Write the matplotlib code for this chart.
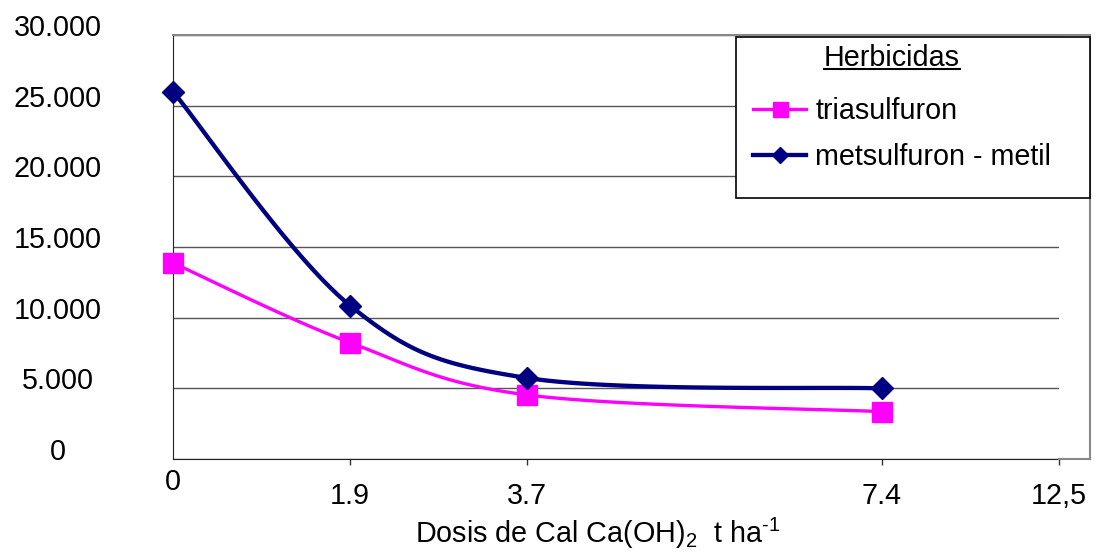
import numpy as np
import matplotlib
matplotlib.use("Agg")
import matplotlib.pyplot as plt
from matplotlib.lines import Line2D
from matplotlib.patches import Rectangle
from matplotlib.transforms import ScaledTranslation

plt.rcParams['font.family'] = ['Liberation Sans', 'DejaVu Sans']
plt.rcParams['mathtext.fontset'] = 'custom'
plt.rcParams['mathtext.rm'] = 'Liberation Sans'
plt.rcParams['mathtext.it'] = 'Liberation Sans'

# data, x is category position
dose_labels = ['0', '1.9', '3.7', '7.4', '12,5']
dose_pos = [0, 1, 2, 4, 5]
data_pos = [0, 1, 2, 4]
triasulfuron = [13870, 8230, 4530, 3350]
metsulfuron = [26000, 10850, 5730, 5000]
y_ticks = [0, 5000, 10000, 15000, 20000, 25000, 30000]
y_labels = ['0', '5.000', '10.000', '15.000', '20.000', '25.000', '30.000']

FS = 20.7
W, H = 1101, 552
fig = plt.figure(figsize=(W/100, H/100), dpi=100)
ax = fig.add_axes([173/W, 1-459/H, (1059-173)/W, (459-35)/H])
ax.set_xlim(0, 5)
ax.set_ylim(0, 30000)


def smooth(xs, ys, n=30):
    # excel-like smoothing, bezier in screen space
    p = ax.transData.transform(np.column_stack([xs, ys]))
    out = [p[0]]
    for i in range(len(p)-1):
        p0 = p[i-1] if i > 0 else p[i]
        p1, p2 = p[i], p[i+1]
        p3 = p[i+2] if i+2 < len(p) else p[i+1]
        c1 = p1 + (p2-p0)/6
        c2 = p2 - (p3-p1)/6
        t = np.linspace(0, 1, n)[1:, None]
        seg = (1-t)**3*p1 + 3*(1-t)**2*t*c1 + 3*(1-t)*t**2*c2 + t**3*p2
        out.extend(seg)
    out = ax.transData.inverted().transform(np.array(out))
    return out[:, 0], out[:, 1]


sx, sy = smooth(data_pos, triasulfuron)
ax.plot(sx, sy, color='#FF00FF', lw=2.4, zorder=3, clip_on=False)
ax.plot(data_pos, triasulfuron, 's', color='#FF00FF', ms=14.5, zorder=4, clip_on=False)
mx, my = smooth(data_pos, metsulfuron)
ax.plot(mx, my, color='#000080', lw=3.1, zorder=5, clip_on=False)
ax.plot(data_pos, metsulfuron, 'D', color='#000080', ms=11, zorder=6, clip_on=False)

ax.set_yticks(y_ticks)
ax.set_yticklabels(y_labels, fontsize=FS, ha='center', va='center')
ax.tick_params(axis='y', length=0, pad=83)
for lab in ax.get_yticklabels():
    lab.set_transform(lab.get_transform() + ScaledTranslation(0, 7/100, fig.dpi_scale_trans))
ax.grid(axis='y', color='#555555', lw=1)
ax.set_axisbelow(True)

ax.set_xticks(dose_pos[1:])
ax.set_xticklabels(dose_labels[1:], fontsize=FS)
ax.set_xticks(dose_pos[:1], minor=True)
ax.set_xticklabels(dose_labels[:1], minor=True, fontsize=FS)
ax.tick_params(axis='x', which='major', length=4, width=1, color='#333333', pad=12.5)
ax.tick_params(axis='x', which='minor', length=0, pad=6.5)

ax.set_xlabel('Dosis de Cal Ca(OH)$_2$  t ha$^{\u20101}$', fontsize=FS)
ax.xaxis.set_label_coords((598-173)/(1059-173), -0.135)

for s in ['top', 'right']:
    ax.spines[s].set_visible(False)
ax.spines['left'].set_color('#222222')
ax.spines['bottom'].set_color('#222222')

# outer plot area frame
frame_c = '#888888'
fig.add_artist(Line2D([173/W, 1090/W], [1-35/H, 1-35/H], color=frame_c, lw=1.5))
fig.add_artist(Line2D([1090/W, 1090/W], [1-35/H, 1-459/H], color=frame_c, lw=1.5))
fig.add_artist(Line2D([1059/W, 1090/W], [1-459/H, 1-459/H], color=frame_c, lw=1.5))

# legend box
fig.add_artist(Rectangle((736/W, 1-198/H), (1090-736)/W, (198-37)/H, transform=fig.transFigure,
                         facecolor='white', edgecolor='black', lw=1.2, zorder=9))
title = fig.text(892/W, 1-58/H, 'Herbicidas', fontsize=FS, ha='center', va='center', zorder=11)

h1 = Line2D([], [], color='#FF00FF', lw=2.4, marker='s', ms=10.8)
h2 = Line2D([], [], color='#000080', lw=3.1, marker='D', ms=8.5)
leg = fig.legend([h1, h2], ['triasulfuron', 'metsulfuron - metil'],
                 loc='upper left', bbox_to_anchor=(753/W, 1-97/H),
                 borderaxespad=0, borderpad=0, fontsize=FS, frameon=False,
                 handlelength=1.85, handletextpad=0.32, labelspacing=0.63)
leg.set_zorder(10)

fig.canvas.draw()
bb = title.get_window_extent()
fig.add_artist(Line2D([bb.x0/W, bb.x1/W], [(bb.y0+3)/H, (bb.y0+3)/H], color='black', lw=1.5, zorder=11))

fig.savefig('out.png', dpi=100)
